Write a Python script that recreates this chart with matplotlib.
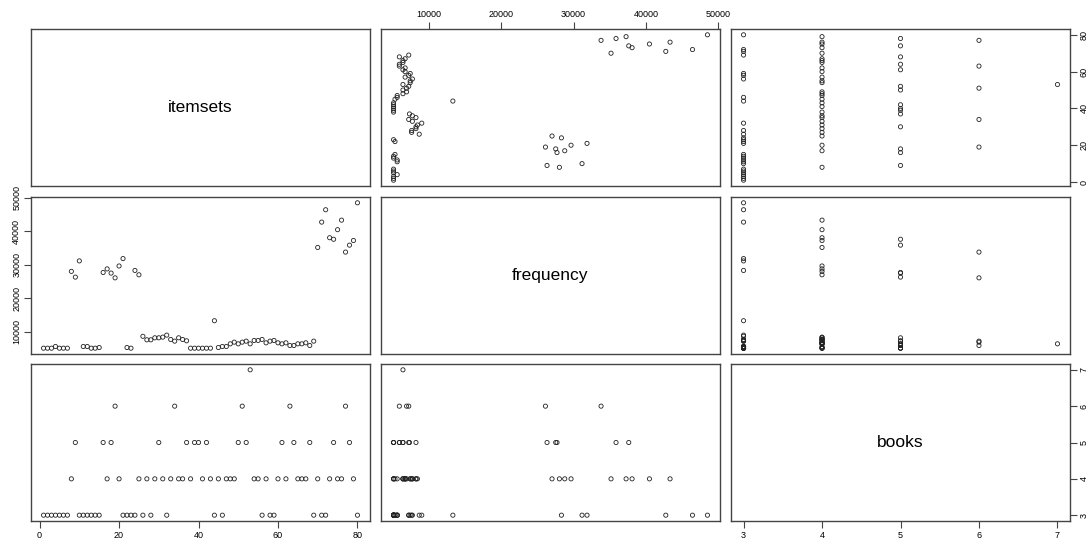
import numpy as np
import matplotlib
matplotlib.use("Agg")
import matplotlib.pyplot as plt

plt.rcParams['font.family'] = ['Liberation Sans', 'DejaVu Sans']

itemsets = [1, 2, 3, 4, 5, 6, 7, 8, 9, 10,
            11, 12, 13, 14, 15, 16, 17, 18, 19, 20,
            21, 22, 23, 24, 25, 26, 27, 28, 29, 30,
            31, 32, 33, 34, 35, 36, 37, 38, 39, 40,
            41, 42, 43, 44, 45, 46, 47, 48, 49, 50,
            51, 52, 53, 54, 55, 56, 57, 58, 59, 60,
            61, 62, 63, 64, 65, 66, 67, 68, 69, 70,
            71, 72, 73, 74, 75, 76, 77, 78, 79, 80]

frequency = [5100, 5100, 5100, 5600, 5100, 5100, 5100, 28030, 26320, 31160,
             5600, 5600, 5100, 5100, 5300, 27700, 28770, 27520, 26100, 29640,
             31850, 5300, 5100, 28310, 27010, 8650, 7600, 7600, 8200, 8200,
             8400, 9000, 7700, 7200, 8200, 7700, 7300, 5100, 5100, 5100,
             5100, 5100, 5100, 13300, 5300, 5600, 5600, 6400, 6900, 6400,
             6900, 7200, 6400, 7400, 7400, 7700, 6700, 7200, 7400, 6700,
             6400, 6700, 5900, 5900, 6400, 6400, 6700, 5900, 7200, 35170,
             42740, 46430, 38080, 37620, 40480, 43330, 33790, 35860, 37250, 48500]

books = [3, 3, 3, 3, 3, 3, 3, 4, 5, 3,
         3, 3, 3, 3, 3, 5, 4, 5, 6, 4,
         3, 3, 3, 3, 4, 3, 4, 3, 4, 5,
         4, 3, 4, 6, 4, 4, 5, 4, 5, 5,
         4, 5, 4, 3, 4, 3, 4, 4, 4, 5,
         6, 5, 7, 4, 4, 3, 4, 3, 3, 4,
         5, 4, 6, 5, 4, 4, 4, 5, 3, 4,
         3, 3, 4, 5, 4, 4, 6, 5, 4, 3]

names = ['itemsets', 'frequency', 'books']
cols = [np.array(itemsets), np.array(frequency), np.array(books)]
ticks = [[0, 20, 40, 60, 80],
         [10000, 20000, 30000, 40000, 50000],
         [3, 4, 5, 6, 7]]

W, H = 1089, 547
fig = plt.figure(figsize=(W / 100, H / 100), dpi=100)

x0s = [31, 381, 731]
y0s = [29, 197, 364]
pw, ph = 339, 157


def lims(v):
    lo, hi = v.min(), v.max()
    ext = (hi - lo) * 0.04
    return lo - ext, hi + ext


edge = '#444444'
for r in range(3):
    for c in range(3):
        ax = fig.add_axes([x0s[c] / W, 1 - (y0s[r] + ph) / H, pw / W, ph / H])
        ax.set_xlim(lims(cols[c]))
        ax.set_ylim(lims(cols[r]))
        for s in ax.spines.values():
            s.set_color(edge)
            s.set_linewidth(1.0)
        ax.tick_params(length=5, width=0.8, color=edge, labelsize=6.5, pad=2)
        ax.set_xticks([])
        ax.set_yticks([])
        if r == c:
            ax.text(0.5, 0.5, names[r], transform=ax.transAxes,
                    ha='center', va='center', fontsize=12.5)
        else:
            ax.scatter(cols[c], cols[r], s=9, facecolors='none',
                       edgecolors='#222222', linewidths=0.6)
        # axes alternate like R pairs()
        if r == 0 and c == 1:
            ax.set_xticks(ticks[1])
            ax.xaxis.tick_top()
        if r == 2 and c in (0, 2):
            ax.set_xticks(ticks[c])
        if c == 2 and r in (0, 2):
            ax.set_yticks(ticks[r])
            ax.yaxis.tick_right()
            for lab in ax.get_yticklabels():
                lab.set_rotation(90)
                lab.set_va('center')
        if c == 0 and r == 1:
            ax.set_yticks(ticks[1])
            for lab in ax.get_yticklabels():
                lab.set_rotation(90)
                lab.set_va('center')

fig.savefig('out.png', dpi=100, facecolor='white')
